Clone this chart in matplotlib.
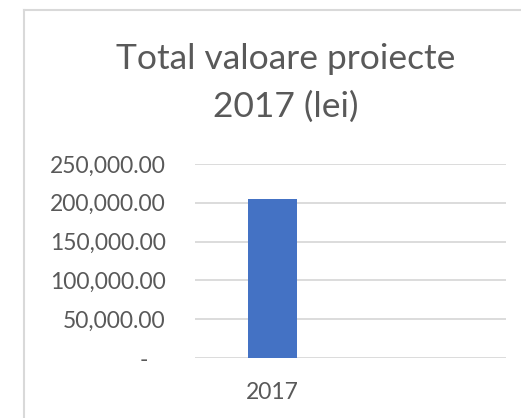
import matplotlib
matplotlib.use("Agg")
import matplotlib.pyplot as plt
from matplotlib.ticker import FuncFormatter, MultipleLocator
from matplotlib.lines import Line2D

# data
categories = ["2017", ""]
values = [205000, 0]
title = "Total valoare proiecte\n2017 (lei)"

bar_color = "#4472C4"
text_color = "#595959"
grid_color = "#D9D9D9"

plt.rcParams["font.family"] = ["Lato", "DejaVu Sans"]

fig = plt.figure(figsize=(5.21, 4.18), dpi=100)
ax = fig.add_axes([0.374, 0.1435, 0.597, 0.4642])

x = list(range(len(categories)))
ax.bar(x, values, width=0.315, color=bar_color, zorder=3)

ax.set_xlim(-0.5, len(categories) - 0.5)
ax.set_ylim(0, 250000)
ax.yaxis.set_major_locator(MultipleLocator(50000))


def fmt(v, pos):
    if v == 0:
        return "-   "
    return "{:,.2f}".format(v)


ax.yaxis.set_major_formatter(FuncFormatter(fmt))
ax.set_xticks(x)
ax.set_xticklabels(categories)

ax.grid(axis="y", color=grid_color, linewidth=1.3, zorder=0)
for s in ax.spines.values():
    s.set_visible(False)
ax.tick_params(axis="both", length=0, labelsize=16.5, labelcolor=text_color)
ax.tick_params(axis="y", pad=21)
ax.tick_params(axis="x", pad=17)

fig.text(0.549, 0.801, title, ha="center", va="center", fontsize=25.5,
         color=text_color, linespacing=1.6)

# chart frame (only left and top edges are inside the picture)
fx = 23.5 / 521
fy = 1 - 9.5 / 418
fig.add_artist(Line2D([fx, fx], [0, fy], color=grid_color, linewidth=1.5))
fig.add_artist(Line2D([fx, 1], [fy, fy], color=grid_color, linewidth=1.5))

fig.savefig("out.png", dpi=100)
